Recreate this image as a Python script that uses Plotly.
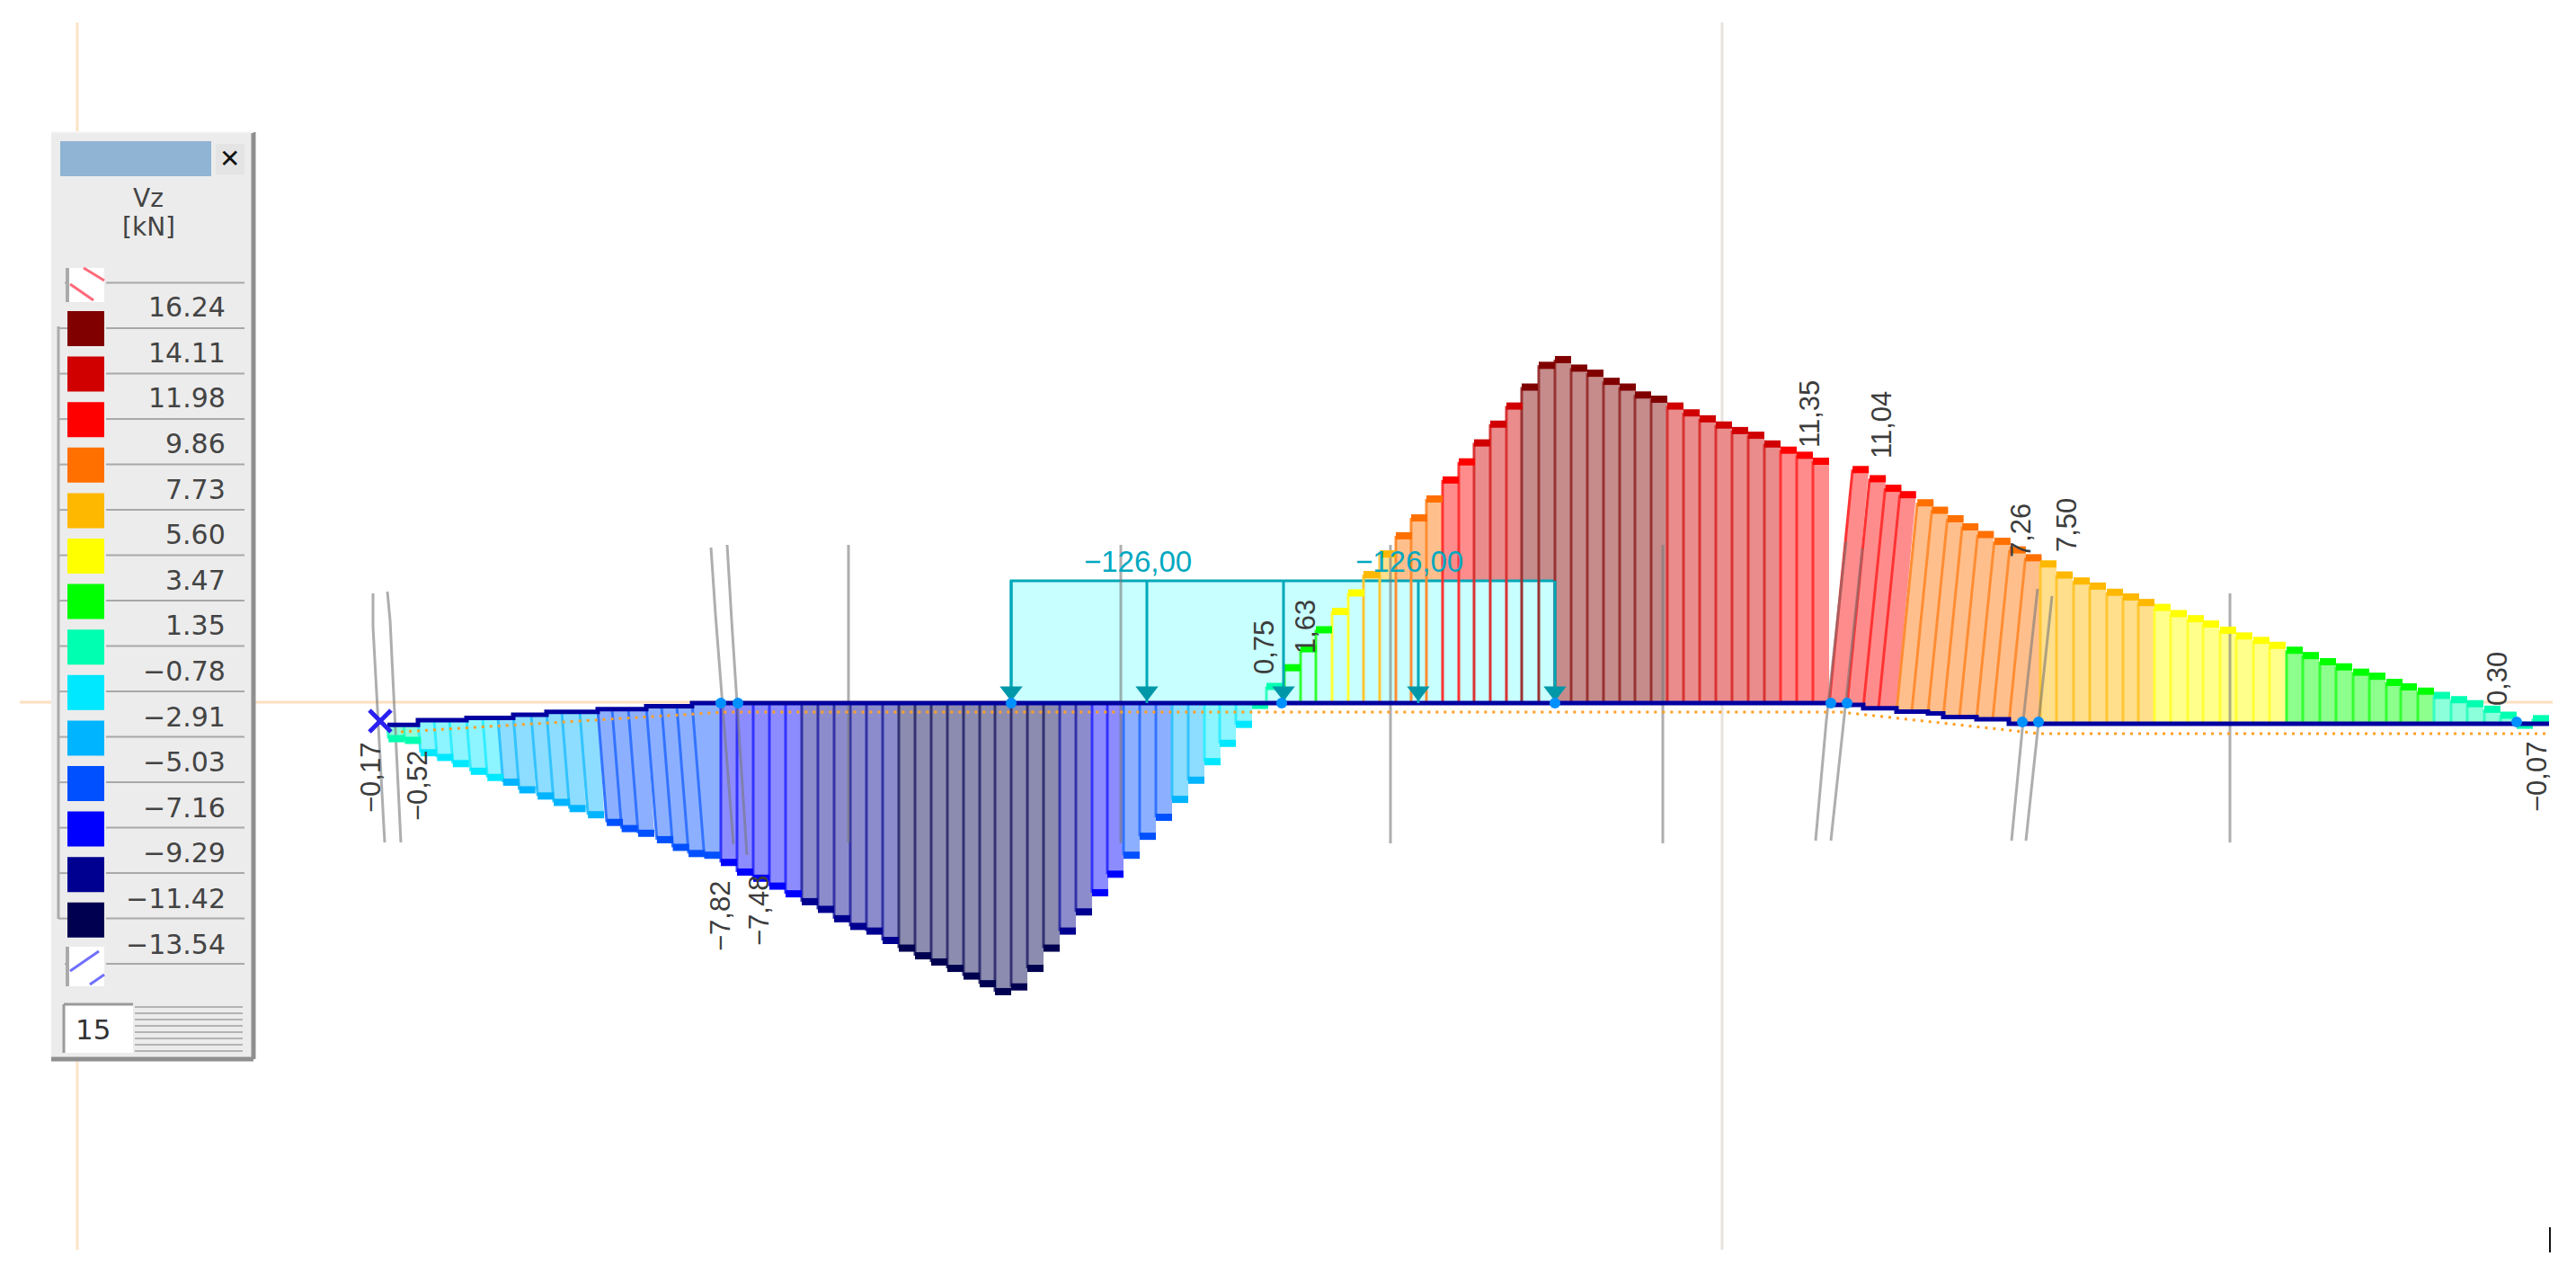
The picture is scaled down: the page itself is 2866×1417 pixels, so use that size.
import plotly.graph_objects as go

W, H = 2866, 1417
ZERO_PX = 782.0      # image row of the member axis
PX_PER_KN = 23.7     # drawing scale of the diagram

# ---------- legend ----------
LEGEND_VALUES = [16.24, 14.11, 11.98, 9.86, 7.73, 5.60, 3.47, 1.35,
                 -0.78, -2.91, -5.03, -7.16, -9.29, -11.42, -13.54]
LEGEND_COLORS = ["#800000", "#d00000", "#ff0000", "#ff7000", "#ffb800", "#ffff00", "#00ff00",
                 "#00ffb0", "#00e8ff", "#00b4ff", "#0050ff", "#0000ff", "#000090", "#000050"]

# ---------- diagram: station (drawing units along the beam), Vz [kN], member offset [kN] ----------
STATION_LEFT = [431, 449, 465, 483, 500, 519, 537, 554, 571, 591, 608, 625, 645, 665, 681, 699, 719, 736, 753, 770]
VZ_LEFT = [-0.65, -0.73, -1.53, -1.75, -2.04, -2.50, -2.79, -3.01, -3.52, -3.81, -4.25, -4.54, -4.83,
           -5.31, -5.60, -5.82, -6.26, -6.62, -6.91, -7.14]
BASE_LEFT = [-1.02, -1.02, -0.80, -0.80, -0.80, -0.70, -0.70, -0.70, -0.55, -0.55, -0.41, -0.41, -0.41,
             -0.29, -0.29, -0.29, -0.15, -0.15, -0.15, 0.0]

STATION_MID = [802, 820, 838, 856, 874, 892, 910, 928, 946, 964, 982, 1000, 1018, 1036, 1054, 1072, 1090, 1107,
               1125, 1143, 1161, 1179, 1197, 1215, 1232, 1250, 1268, 1286, 1304, 1322, 1340, 1357, 1375, 1393,
               1409, 1429, 1447, 1464, 1482, 1500, 1517, 1535, 1553, 1570, 1587, 1605, 1623, 1640, 1658, 1676,
               1693, 1712, 1730, 1748, 1766, 1784, 1802, 1819, 1837, 1855, 1873, 1891, 1909, 1927, 1945, 1963,
               1981, 1999, 2017]
VZ_MID = [-7.48, -7.93, -8.22, -8.59, -8.95, -9.32, -9.68, -10.12, -10.48, -10.70, -11.14, -11.50, -11.86, -12.15,
          -12.45, -12.81, -13.17, -13.54,
          -13.32, -12.45, -11.50, -10.70, -9.80, -8.90, -8.03, -7.14, -6.25, -5.36, -4.52, -3.62, -2.75, -1.89,
          -1.00, -0.11,
          0.78, 1.66, 2.55, 3.44, 4.30, 5.17, 6.03, 7.00, 7.85, 8.69, 9.58, 10.47, 11.32, 12.21, 13.09, 13.94,
          14.83, 15.85, 16.12, 15.72, 15.48, 15.10, 14.83, 14.46, 14.26, 13.94, 13.62, 13.34, 13.05, 12.79,
          12.57, 12.16, 11.87, 11.63, 11.35]

STATION_DROP = [2035, 2055, 2073, 2090, 2110, 2127, 2145, 2162, 2180, 2199, 2217, 2235]
VZ_DROP = [11.04, 10.61, 10.32, 10.02, 9.80, 9.45, 9.13, 8.92, 8.56, 8.35, 7.95, 7.79]
BASE_DROP = [-0.08, -0.08, -0.24, -0.24, -0.40, -0.40, -0.48, -0.65, -0.65, -0.76, -0.76, -0.97]

STATION_RIGHT = [2270, 2288, 2307, 2325, 2344, 2362, 2379, 2397, 2415, 2434, 2451, 2470, 2488, 2507, 2525,
                 2544, 2562, 2581, 2599, 2618, 2636, 2655, 2671, 2690, 2708, 2727, 2745, 2764, 2782, 2800, 2818]
VZ_RIGHT = [7.50, 6.98, 6.70, 6.46, 6.17, 5.95, 5.69, 5.46, 5.17, 4.93, 4.68, 4.39, 4.12, 3.91, 3.68,
            3.45, 3.20, 2.91, 2.67, 2.42, 2.23, 1.94, 1.73, 1.53, 1.33, 1.13, 0.94, 0.68, 0.40, -0.07, 0.24]
BASE_RIGHT_LEVEL = -0.97
MEMBER_SLANT_LEFT = 0.08
MEMBER_SLANT_DROP = 0.10
BIN_WIDTH = 18.0

# ---------- load ----------
LOAD_VALUE_LABEL = "−126,00"
LOAD_START, LOAD_END = 1125, 1730
LOAD_ARROWS = [1125, 1276, 1428, 1578, 1730]
LOAD_HEIGHT_KN = 5.74

# ---------- result labels: text, x, image row ----------
VALUE_LABELS = [("−0,17", 412, 865), ("−0,52", 464, 874), ("−7,82", 801, 1019), ("−7,48", 844, 1013),
                ("0,75", 1406, 720), ("1,63", 1452, 697), ("11,35", 2014, 461), ("11,04", 2094, 473),
                ("7,26", 2248, 590), ("7,50", 2299, 584), ("0,30", 2778, 755), ("−0,07", 2822, 864)]

# ---------- structure lines, in image pixels ----------
GRAY_LINES = [
    [(415, 660), (415, 697), (428, 937)], [(431, 658), (434, 690), (446, 937)],
    [(791, 609), (796, 683), (816, 939)], [(809, 606), (814, 690), (831, 951)],
    [(944, 606), (944, 937)], [(1247, 606), (1247, 938)], [(1547, 606), (1547, 938)], [(1850, 606), (1850, 938)],
    [(2054, 602), (2032, 801), (2020, 935)], [(2072, 610), (2051, 801), (2037, 935)],
    [(2267, 655), (2251, 801), (2238, 935)], [(2283, 663), (2268, 801), (2254, 935)],
    [(2481, 660), (2481, 937)],
]
NODES = [(802, 782), (821, 782), (1125, 782), (1426, 782), (1730, 782), (2037, 782), (2055, 782),
         (2250, 803), (2268, 803), (2800, 803)]
DOTTED = [(446, 814), (808, 792), (2048, 792), (2270, 816), (2836, 816)]


def ky(py):
    return (ZERO_PX - py) / PX_PER_KN


def px(x):
    return x / W


def py(y):
    return 1 - y / H


def band(v):
    for i in range(len(LEGEND_COLORS)):
        if v >= LEGEND_VALUES[i + 1]:
            return i
    return len(LEGEND_COLORS) - 1


def tint(hexcol, a):
    r, g, b = [int(hexcol[i:i + 2], 16) for i in (1, 3, 5)]
    return "rgb(%d,%d,%d)" % tuple(round(c * a + 255 * (1 - a)) for c in (r, g, b))


# assemble bins
stations = STATION_LEFT + STATION_MID + STATION_DROP + STATION_RIGHT
values = VZ_LEFT + VZ_MID + VZ_DROP + VZ_RIGHT
bases = BASE_LEFT + [0.0] * len(STATION_MID) + BASE_DROP + [BASE_RIGHT_LEVEL] * len(STATION_RIGHT)
slants = ([MEMBER_SLANT_LEFT] * len(STATION_LEFT) + [0.0] * len(STATION_MID) +
          [MEMBER_SLANT_DROP] * len(STATION_DROP) + [0.0] * len(STATION_RIGHT))

n_b = len(LEGEND_COLORS)
fill_x = [[] for _ in range(n_b)]
fill_y = [[] for _ in range(n_b)]
stripe_x = [[] for _ in range(n_b)]
stripe_y = [[] for _ in range(n_b)]
cap_x = [[] for _ in range(n_b)]
cap_y = [[] for _ in range(n_b)]
for i, (x, v, b, s) in enumerate(zip(stations, values, bases, slants)):
    k = band(v)
    tipx = x + s * abs(v) * PX_PER_KN
    right = stations[i + 1] if i + 1 < len(stations) else x + BIN_WIDTH
    top = b + v
    fill_x[k] += [x, right, tipx + BIN_WIDTH, tipx, x, None]
    fill_y[k] += [b, b, top, top, b, None]
    stripe_x[k] += [x, tipx, None]
    stripe_y[k] += [b, top, None]
    cap_x[k] += [tipx, tipx + BIN_WIDTH, None]
    cap_y[k] += [top, top, None]

fig = go.Figure()

# fills
for k in range(n_b):
    fig.add_trace(go.Scatter(x=fill_x[k], y=fill_y[k], mode="lines", fill="toself",
                             fillcolor=tint(LEGEND_COLORS[k], 0.45), line=dict(width=0),
                             hoverinfo="skip"))
# load block
fig.add_trace(go.Scatter(x=[LOAD_START, LOAD_START, LOAD_END, LOAD_END, LOAD_START],
                         y=[0, LOAD_HEIGHT_KN, LOAD_HEIGHT_KN, 0, 0], mode="lines", fill="toself",
                         fillcolor="#c8ffff", line=dict(width=3, color="#00a8b8"), hoverinfo="skip"))
# stripes
for k in range(n_b):
    fig.add_trace(go.Scatter(x=stripe_x[k], y=stripe_y[k], mode="lines",
                             line=dict(width=3, color=tint(LEGEND_COLORS[k], 0.8)), hoverinfo="skip"))
# structure lines
for pts in GRAY_LINES:
    fig.add_trace(go.Scatter(x=[p[0] for p in pts], y=[ky(p[1]) for p in pts], mode="lines",
                             line=dict(width=3, color="rgba(120,120,120,0.6)"), hoverinfo="skip"))
# caps
for k in range(n_b):
    fig.add_trace(go.Scatter(x=cap_x[k], y=cap_y[k], mode="lines",
                             line=dict(width=8, color=LEGEND_COLORS[k]), hoverinfo="skip"))
# member line
fig.add_trace(go.Scatter(x=stations + [2836], y=bases + [BASE_RIGHT_LEVEL], mode="lines",
                         line=dict(width=5, color="#0000a0", shape="hv"), hoverinfo="skip"))
# dotted deformation line
fig.add_trace(go.Scatter(x=[p[0] for p in DOTTED], y=[ky(p[1]) for p in DOTTED], mode="lines",
                         line=dict(width=3, color="#ffa024", dash="3px,6px"), hoverinfo="skip"))
# arrows
for ax in LOAD_ARROWS:
    fig.add_trace(go.Scatter(x=[ax, ax], y=[0, LOAD_HEIGHT_KN], mode="lines",
                             line=dict(width=3, color="#00a8b8"), hoverinfo="skip"))
fig.add_trace(go.Scatter(x=LOAD_ARROWS, y=[0.55] * len(LOAD_ARROWS), mode="markers",
                         marker=dict(symbol="triangle-down", size=22, color="#0098a8"), hoverinfo="skip"))
# nodes
fig.add_trace(go.Scatter(x=[p[0] for p in NODES], y=[ky(p[1]) for p in NODES], mode="markers",
                         marker=dict(symbol="circle", size=12, color="#0090ff"), hoverinfo="skip"))
# support cross
fig.add_trace(go.Scatter(x=[423], y=[ky(802)], mode="markers",
                         marker=dict(symbol="x-thin", size=24, line=dict(width=5, color="#2a20f0")),
                         hoverinfo="skip"))

ann = []
for txt, x, y in VALUE_LABELS:
    ann.append(dict(x=px(x), y=py(y), xref="paper", yref="paper", text=txt, textangle=-90, showarrow=False,
                    font=dict(family="Liberation Sans", size=31, color="#3c3c3c"),
                    xanchor="center", yanchor="middle"))
for x in (1266, 1568):
    ann.append(dict(x=px(x), y=py(624), xref="paper", yref="paper", text=LOAD_VALUE_LABEL, showarrow=False,
                    font=dict(family="Liberation Sans", size=33, color="#00a8c0"),
                    xanchor="center", yanchor="middle"))

# ---------- chrome ----------
shapes = []


def rect(x0, y0, x1, y1, fill, line=None, lw=0, layer="above"):
    shapes.append(dict(type="rect", xref="paper", yref="paper", x0=px(x0), x1=px(x1), y0=py(y0), y1=py(y1),
                       fillcolor=fill, line=dict(color=line or fill, width=lw), layer=layer))


def seg(x0, y0, x1, y1, col, lw=2, layer="above"):
    shapes.append(dict(type="line", xref="paper", yref="paper", x0=px(x0), x1=px(x1), y0=py(y0), y1=py(y1),
                       line=dict(color=col, width=lw), layer=layer))


seg(86, 25, 86, 1390, "#fde3c8", 3, "below")
seg(1916, 25, 1916, 1390, "#e8e2dc", 3, "below")
seg(22, 781, 2840, 781, "#fde0c0", 3, "below")
seg(2837, 1365, 2837, 1393, "#111111", 2)

rect(57, 147, 282, 1178, "#ececec")
seg(282, 147, 282, 1178, "#8f8f8f", 5)
seg(57, 1178, 282, 1178, "#8f8f8f", 5)
seg(57, 147, 282, 147, "#f6f6f6", 2)
rect(67, 157, 235, 196, "#8fb4d4")
rect(240, 160, 272, 194, "#e4e4e4")
ann.append(dict(x=px(256), y=py(177), xref="paper", yref="paper", text="<b>✕</b>", showarrow=False,
                xanchor="center", yanchor="middle",
                font=dict(family="DejaVu Sans", size=28, color="#111111")))
for txt, yy in (("Vz", 221), ("[kN]", 252)):
    ann.append(dict(x=px(165), y=py(yy), xref="paper", yref="paper", text=txt, showarrow=False,
                    xanchor="center", yanchor="middle",
                    font=dict(family="DejaVu Sans", size=28, color="#444444")))

SEP0, STEP = 314.6, 50.5
seg(65, 363, 65, 1022, "#aaaaaa", 3)
for i in range(16):
    yy = SEP0 + STEP * i
    seg(118, yy, 272, yy, "#a8a8a8", 2)
    seg(65 if 1 <= i <= 14 else 72, yy, 75, yy, "#aaaaaa", 2)
for i, c in enumerate(LEGEND_COLORS):
    y0 = 346 + 50.6 * i
    rect(75, y0, 116, y0 + 39, c)
for i, v in enumerate(LEGEND_VALUES):
    ann.append(dict(x=px(253), y=py(341.6 + 50.6 * i), xref="paper", yref="paper",
                    text=("−%.2f" % -v) if v < 0 else "%.2f" % v, showarrow=False,
                    xanchor="right", yanchor="middle",
                    font=dict(family="DejaVu Sans", size=30, color="#444444")))
# overflow boxes
rect(75, 298, 116, 336, "#ffffff")
seg(75, 298, 75, 336, "#aaaaaa", 4)
seg(93, 298, 116, 312, "#ff6a7a", 3)
seg(78, 316, 104, 334, "#ff6a7a", 3)
rect(75, 1053, 116, 1097, "#ffffff")
seg(75, 1053, 75, 1097, "#aaaaaa", 4)
seg(78, 1080, 110, 1058, "#7070ff", 3)
seg(100, 1095, 116, 1084, "#7070ff", 3)
# counter box
rect(71, 1117, 148, 1171, "#ffffff")
seg(71, 1117, 148, 1117, "#9a9a9a", 3)
seg(71, 1117, 71, 1171, "#9a9a9a", 3)
for i in range(8):
    yy = 1120 + 7 * i
    seg(150, yy, 270, yy, "#a0a0a0", 1.5)
ann.append(dict(x=px(103), y=py(1145), xref="paper", yref="paper", text="15", showarrow=False,
                xanchor="center", yanchor="middle",
                font=dict(family="DejaVu Sans", size=31, color="#333333")))

fig.update_layout(
    width=W, height=H, margin=dict(l=0, r=0, t=0, b=0), paper_bgcolor="white", plot_bgcolor="white",
    showlegend=False, annotations=ann, shapes=shapes,
    xaxis=dict(range=[0, W], visible=False, fixedrange=True),
    yaxis=dict(range=[ky(H), ky(0)], visible=False, fixedrange=True),
)
fig.write_html("out.html", config=dict(displayModeBar=False),
               post_script="document.body.style.margin='0';document.body.style.overflow='hidden';")
